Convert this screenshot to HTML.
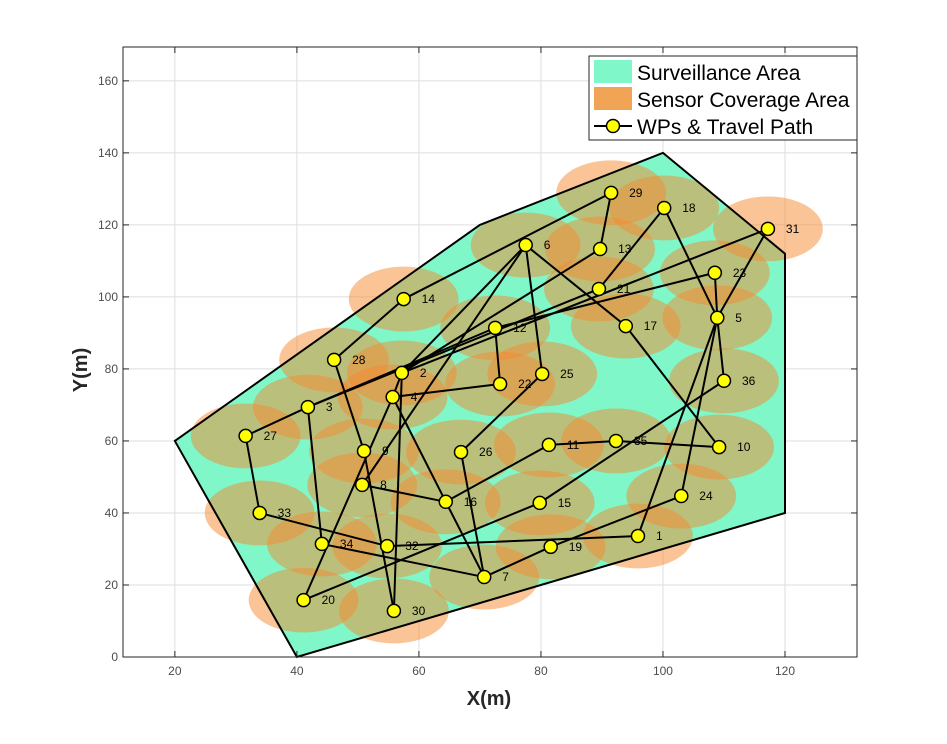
<!DOCTYPE html>
<html><head><meta charset="utf-8"><style>
body{margin:0;background:#fff;}
svg{font-family:"Liberation Sans",Arial,sans-serif;}
</style></head><body>
<svg id="chart" width="947" height="739" viewBox="0 0 947 739">
<rect x="0" y="0" width="947" height="739" fill="#fff"/>
<g id="grid"></g>
<g id="plot"></g>
<g id="axes"></g>
<text x="489" y="705" text-anchor="middle" font-size="20" font-weight="bold" fill="#262626">X(m)</text>
<text x="0" y="0" transform="translate(87,370) rotate(-90)" text-anchor="middle" font-size="20" font-weight="bold" fill="#262626">Y(m)</text>
<g>
<rect x="589" y="56" width="268" height="84" fill="#fff" stroke="#262626" stroke-width="1"/>
<g><rect x="594" y="60" width="38" height="23" fill="#7ff7c9"/><text x="637" y="80" font-size="21" fill="#000">Surveillance Area</text></g>
<g><rect x="594" y="87" width="38" height="23" fill="#f2a456"/><text x="637" y="107" font-size="21" fill="#000">Sensor Coverage Area</text></g>
<g><line x1="594" y1="126" x2="632" y2="126" stroke="#000" stroke-width="2"/><circle cx="613" cy="126" r="6.5" fill="#ffff00" stroke="#000" stroke-width="1.5"/><text x="637" y="134" font-size="21" fill="#000">WPs &amp; Travel Path</text></g>
</g>
</svg>
<script>
const xTicks=[20,40,60,80,100,120];
const yTicks=[0,20,40,60,80,100,120,140,160];
const areaX=[20,40,120,120,100,70];
const areaY=[60,0,40,112,140,120];
const wpX=[95.9,57.2,41.8,55.7,108.9,77.5,70.7,50.7,51.0,109.2,81.3,72.5,89.7,57.5,79.8,64.4,93.9,100.2,81.6,41.1,89.5,73.3,108.5,103.0,80.2,66.9,31.6,46.1,91.5,55.9,117.2,54.8,33.9,44.1,92.3,110.0];
const wpY=[33.6,78.9,69.4,72.2,94.2,114.4,22.2,47.8,57.2,58.3,58.9,91.4,113.3,99.4,42.8,43.1,91.9,124.7,30.6,15.8,102.2,75.8,106.7,44.7,78.6,56.9,61.4,82.5,128.9,12.8,118.9,30.8,40.0,31.4,60.0,76.7];
const edgeFrom=[27,27,33,32,1,3,34,7,19,24,5,5,5,15,15,20,4,22,12,4,16,8,16,11,35,10,17,6,25,26,6,2,30,9,28,14,29,13,18,21,31,3,16,5,2];
const edgeTo=[3,33,32,1,5,34,7,19,24,5,23,18,31,36,20,4,22,12,23,16,8,6,11,35,10,17,6,25,26,7,2,30,9,28,14,29,13,2,21,3,2,12,7,36,4];
const sensorR=9;
const X0=123,X1=857,Y0=657,Y1=47,xmin=11.5,xmax=131.8,ymin=0,ymax=169.4;
const sx=v=>X0+(v-xmin)/(xmax-xmin)*(X1-X0);
const sy=v=>Y0-(v-ymin)/(ymax-ymin)*(Y0-Y1);
const NS='http://www.w3.org/2000/svg';
function mk(tag,attrs,parent){const e=document.createElementNS(NS,tag);for(const k in attrs)e.setAttribute(k,attrs[k]);parent.appendChild(e);return e;}
const grid=document.getElementById('grid'),plot=document.getElementById('plot'),axes=document.getElementById('axes');
mk('rect',{x:X0,y:Y1,width:X1-X0,height:Y0-Y1,fill:'#fff'},grid);
xTicks.forEach(t=>{const l=mk('line',{x1:sx(t),x2:sx(t),y1:Y1,y2:Y0,stroke:'#dedede','stroke-width':1},grid);

});
yTicks.forEach(t=>{const l=mk('line',{x1:X0,x2:X1,y1:sy(t),y2:sy(t),stroke:'#dedede','stroke-width':1},grid);

});
const pts=areaX.map((x,i)=>sx(x)+','+sy(areaY[i])).join(' ');
const poly=mk('polygon',{points:pts,fill:'#7ff7c9',stroke:'none'},plot);


const rx=sx(sensorR)-sx(0),ry=sy(0)-sy(sensorR);
wpX.forEach((x,i)=>{const c=mk('ellipse',{cx:sx(x),cy:sy(wpY[i]),rx:rx,ry:ry,fill:'#f58a30','fill-opacity':0.5},plot);

});
const outline=mk('polygon',{points:pts,fill:'none',stroke:'#000','stroke-width':2},plot);


edgeFrom.forEach((a,i)=>{const b=edgeTo[i];const l=mk('line',{x1:sx(wpX[a-1]),y1:sy(wpY[a-1]),x2:sx(wpX[b-1]),y2:sy(wpY[b-1]),stroke:'#000','stroke-width':2},plot);

});
wpX.forEach((x,i)=>{const c=mk('circle',{cx:sx(x),cy:sy(wpY[i]),r:6.5,fill:'#ffff00',stroke:'#000','stroke-width':1.5},plot);


const t=mk('text',{x:sx(x)+18,y:sy(wpY[i])+4,'font-size':12,fill:'#000'},plot);t.textContent=String(i+1);

});
mk('rect',{x:X0,y:Y1,width:X1-X0,height:Y0-Y1,fill:'none',stroke:'#262626','stroke-width':1},axes);
xTicks.forEach(t=>{mk('line',{x1:sx(t),x2:sx(t),y1:Y0,y2:Y0-6,stroke:'#262626'},axes);mk('line',{x1:sx(t),x2:sx(t),y1:Y1,y2:Y1+6,stroke:'#262626'},axes);
const e=mk('text',{x:sx(t),y:Y0+18,'text-anchor':'middle','font-size':12,fill:'#4d4d4d'},axes);e.textContent=t;

});
yTicks.forEach(t=>{mk('line',{x1:X0,x2:X0+6,y1:sy(t),y2:sy(t),stroke:'#262626'},axes);mk('line',{x1:X1,x2:X1-6,y1:sy(t),y2:sy(t),stroke:'#262626'},axes);
const e=mk('text',{x:X0-5,y:sy(t)+4,'text-anchor':'end','font-size':12,fill:'#4d4d4d'},axes);e.textContent=t;

});
</script>
</body></html>
